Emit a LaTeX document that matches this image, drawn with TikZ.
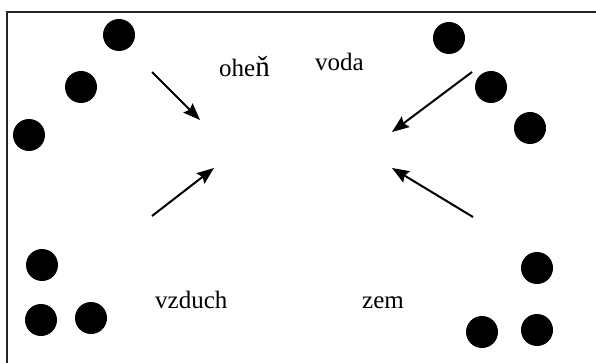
\documentclass[tikz,border=0pt]{standalone}
\usepackage{fontspec}
\setmainfont{Liberation Serif}
\usetikzlibrary{arrows.meta}
\begin{document}
\begin{tikzpicture}[x=1pt,y=-1pt,
  dot/.style={circle,fill=black,inner sep=0pt,minimum size=32pt},
  lbl/.style={inner sep=0pt,anchor=base west,font=\fontsize{25}{25}\selectfont},
  arr/.style={-{Stealth[length=17pt,width=13pt,inset=2.5pt]},line width=2pt},
  frame/.style={line width=1.2pt,draw=black!85}]
\useasboundingbox (0,0) rectangle (596,363);
\coordinate (tl) at (7,12);
\coordinate (tr) at (596,12);
\coordinate (bl) at (7,363);
\draw[frame] (tr) -- (tl) -- (bl);
% fire dots
\node[dot] (f1) at (119,35) {};
\node[dot] (f2) at (81,87) {};
\node[dot] (f3) at (29,135) {};
% water dots
\node[dot] (w1) at (449,38) {};
\node[dot] (w2) at (491,87) {};
\node[dot] (w3) at (530,128) {};
% air dots
\node[dot] (a1) at (42,265) {};
\node[dot] (a2) at (41,320) {};
\node[dot] (a3) at (91,318) {};
% earth dots
\node[dot] (e1) at (537,268) {};
\node[dot] (e2) at (482,332) {};
\node[dot] (e3) at (537,330) {};
% labels
\node[lbl] (ohen) at (219,77) {ohe{\fontsize{29}{29}\selectfont ň}};
\node[lbl] (voda) at (315,71) {voda};
\node[lbl] (vzduch) at (155,308) {vzduch};
\node[lbl] (zem) at (362,308) {zem};
% arrows
\coordinate (s1) at (152,72);  \coordinate (t1) at (200,120);
\coordinate (s2) at (472,72);  \coordinate (t2) at (392,132);
\coordinate (s3) at (152,216); \coordinate (t3) at (214,168);
\coordinate (s4) at (473,217); \coordinate (t4) at (392,168);
\draw[arr] (s1) -- (t1);
\draw[arr] (s2) -- (t2);
\draw[arr] (s3) -- (t3);
\draw[arr] (s4) -- (t4);
\end{tikzpicture}
\end{document}
